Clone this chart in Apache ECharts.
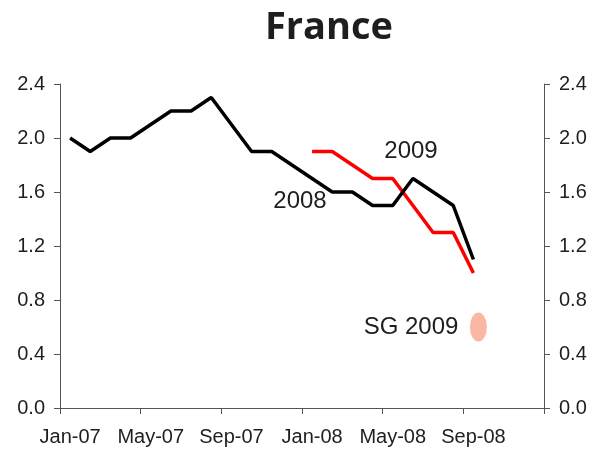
<!DOCTYPE html>
<html>
<head>
<meta charset="utf-8">
<title>France</title>
<script src="https://cdn.jsdelivr.net/npm/echarts@6/dist/echarts.min.js"></script>
<style>
  html, body { margin: 0; padding: 0; background: #fff; }
  #chart { width: 602px; height: 454px; }
</style>
</head>
<body>
<div id="chart"></div>
<script>
var months = ['Jan-07', 'Feb-07', 'Mar-07', 'Apr-07', 'May-07', 'Jun-07', 'Jul-07', 'Aug-07',
  'Sep-07', 'Oct-07', 'Nov-07', 'Dec-07', 'Jan-08', 'Feb-08', 'Mar-08', 'Apr-08',
  'May-08', 'Jun-08', 'Jul-08', 'Aug-08', 'Sep-08', 'Oct-08', 'Nov-08', 'Dec-08'];
var forecast2008 = [2.0, 1.9, 2.0, 2.0, 2.1, 2.2, 2.2, 2.3, 2.1, 1.9, 1.9, 1.8,
  1.7, 1.6, 1.6, 1.5, 1.5, 1.7, 1.6, 1.5, 1.1];
var forecast2009 = [null, null, null, null, null, null, null, null, null, null, null, null,
  1.9, 1.9, 1.8, 1.7, 1.7, 1.5, 1.3, 1.3, 1.0];
var sg2009 = [['Sep-08', 0.6]];
var yTicks = [0, 0.4, 0.8, 1.2, 1.6, 2.0, 2.4];

(function () {
  var font = '"Liberation Sans", Arial, sans-serif';
  var axisColor = '#555';
  var textColor = '#1e1e1e';

  function yAxis(position, margin) {
    return {
      type: 'value',
      position: position,
      min: yTicks[0],
      max: yTicks[yTicks.length - 1],
      interval: 0.4,
      splitLine: { show: false },
      axisLine: { show: true, lineStyle: { color: axisColor, width: 1 } },
      axisTick: { show: true, length: 6, lineStyle: { color: axisColor } },
      axisLabel: {
        margin: margin,
        color: textColor,
        fontFamily: font,
        fontSize: 20,
        formatter: function (v) { return v.toFixed(1); }
      }
    };
  }

  function note(text, x, y) {
    return {
      type: 'text',
      x: x,
      y: y,
      style: {
        text: text,
        fill: textColor,
        font: '24px ' + font,
        align: 'center',
        verticalAlign: 'middle'
      }
    };
  }

  var chart = echarts.init(document.getElementById('chart'));
  chart.setOption({
    animation: false,
    grid: { left: 60, right: 58, top: 84, bottom: 46 },
    xAxis: {
      type: 'category',
      data: months,
      boundaryGap: true,
      axisLine: { lineStyle: { color: axisColor, width: 1 } },
      axisTick: { show: true, interval: 3, length: 6, lineStyle: { color: axisColor } },
      axisLabel: {
        interval: 3,
        margin: 19,
        color: textColor,
        fontFamily: font,
        fontSize: 20
      }
    },
    yAxis: [yAxis('left', 15), yAxis('right', 15)],
    series: [
      {
        name: '2008',
        type: 'line',
        data: forecast2008,
        symbol: 'none',
        lineStyle: { color: '#000', width: 3.5 },
        z: 3
      },
      {
        name: '2009',
        type: 'line',
        data: forecast2009,
        symbol: 'none',
        lineStyle: { color: '#ff0000', width: 3.5 },
        z: 2
      },
      {
        name: 'SG 2009',
        type: 'scatter',
        data: sg2009,
        symbol: 'circle',
        symbolSize: [17, 29],
        symbolOffset: [5, 0],
        itemStyle: { color: '#f6a68e' }
      }
    ],
    graphic: [
      {
        type: 'text',
        x: 329,
        y: 28,
        style: {
          text: 'France',
          fill: '#1e1e1e',
          font: 'bold 38px "Open Sans", sans-serif',
          align: 'center',
          verticalAlign: 'middle'
        }
      },
      note('2008', 300, 201),
      note('2009', 411, 151),
      note('SG 2009', 411, 327)
    ]
  });
})();
</script>
</body>
</html>
